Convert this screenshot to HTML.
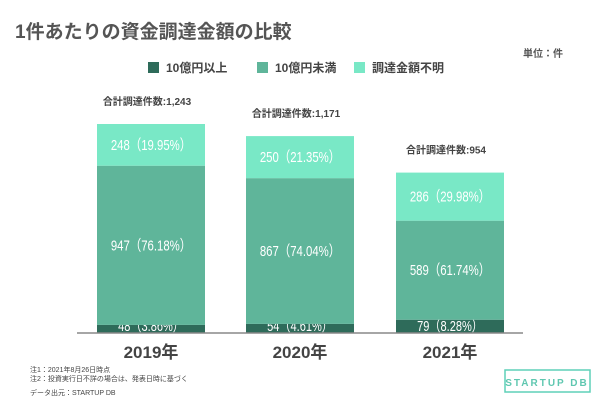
<!DOCTYPE html>
<html><head><meta charset="utf-8">
<style>
body{margin:0;width:600px;height:400px;background:#fff;overflow:hidden;font-family:"Liberation Sans","Noto Sans CJK JP",sans-serif;}
svg text{font-family:"Liberation Sans","Noto Sans CJK JP",sans-serif;}
</style></head><body>
<svg width="600" height="400">
<text x="15" y="38" font-size="19" font-weight="bold" fill="#555">1件あたりの資金調達金額の比較</text>
<text x="563" y="57" font-size="10" font-weight="bold" fill="#555" text-anchor="end">単位：件</text>
<g>
<rect x="148" y="62" width="11" height="11" fill="#2e6b5a"/>
<text x="166" y="72" font-size="12" font-weight="bold" fill="#444">10億円以上</text>
<rect x="257" y="62" width="11" height="11" fill="#5fb59a"/>
<text x="275" y="72" font-size="12" font-weight="bold" fill="#444">10億円未満</text>
<rect x="354" y="62" width="11" height="11" fill="#79e8c6"/>
<text x="372" y="72" font-size="12" font-weight="bold" fill="#444">調達金額不明</text>
</g>
<g id="bars"></g>
<line x1="77" y1="333" x2="523" y2="333" stroke="#888" stroke-width="1.5"/>
<text x="30" y="372" font-size="7" fill="#444">注1：2021年8月26日時点</text>
<text x="30" y="381" font-size="7" fill="#444">注2：投資実行日不詳の場合は、発表日時に基づく</text>
<text x="30" y="395" font-size="7" fill="#444">データ出元：STARTUP DB</text>
<g>
<rect x="505" y="370" width="85" height="22" fill="none" stroke="#5fd0b8" stroke-width="1.5"/>
<text x="547" y="386" font-size="10" font-weight="bold" fill="#5fc7b0" text-anchor="middle" letter-spacing="2">STARTUP DB</text>
</g>
</svg>
<script>
const years=["2019年","2020年","2021年"];
const large=[48,54,79];
const small=[947,867,589];
const unknown=[248,250,286];
const largePct=["3.86%","4.61%","8.28%"];
const smallPct=["76.18%","74.04%","61.74%"];
const unknownPct=["19.95%","21.35%","29.98%"];
const totals=["1,243","1,171","954"];
const base=333, scale=209/1243;
const xs=[97,246,396], bw=108;
const y=v=>base-v*scale;
const g=document.getElementById('bars');
const NS="http://www.w3.org/2000/svg";
function mk(t,a){const e=document.createElementNS(NS,t);for(const k in a)e.setAttribute(k,a[k]);g.appendChild(e);return e;}
years.forEach((yr,i)=>{
  const x=xs[i];
  const segs=[[large[i],largePct[i],"#2e6b5a","large"],[small[i],smallPct[i],"#5fb59a","small"],[unknown[i],unknownPct[i],"#79e8c6","unknown"]];
  let cum=0;
  segs.forEach(s=>{
    const y0=y(cum),y1=y(cum+s[0]);
    const r=mk('rect',{x:x,y:y1,width:bw,height:y0-y1,fill:s[2]});
    
    
    const label=s[0]+"（"+s[1]+"）";
    const t=mk('text',{x:x+bw/2,y:s[3]==="large"?base-2:(y0+y1)/2+5,'font-size':15,fill:'#fff','text-anchor':'middle',textLength:label.length*7.3,lengthAdjust:'spacingAndGlyphs'});
    t.textContent=label;
    
    
    cum+=s[0];
  });
  const tt=mk('text',{x:x+bw/2-4,y:y(cum)-19,'font-size':10,'font-weight':'bold',fill:'#444','text-anchor':'middle'});
  tt.textContent="合計調達件数:"+totals[i];
  
  
  const xl=mk('text',{x:x+bw/2,y:358,'font-size':17,'font-weight':'bold',fill:'#444','text-anchor':'middle'});
  xl.textContent=yr;
  
  
});
</script>
</body></html>
